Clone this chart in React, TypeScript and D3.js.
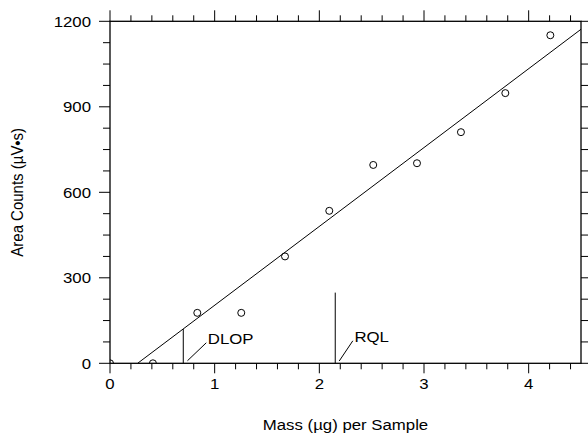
import React from "react";
import * as d3 from "d3";

const massX = [0, 0.41, 0.834, 1.254, 1.672, 2.095, 2.515, 2.933, 3.353, 3.777, 4.207];
const areaY = [0, 0, 177, 177, 375, 535, 696, 702, 811, 948, 1151];
const fitX = [0.264, 4.5];
const fitY = [0, 1172];
const xTicks = [0, 1, 2, 3, 4];
const yTicks = [0, 300, 600, 900, 1200];
const markers = [
  { label: "DLOP", x: 0.70, top: 120, leadX: [0.74, 0.92], leadY: [9, 72], textX: 0.935, textY: 68 },
  { label: "RQL", x: 2.152, top: 248, leadX: [2.19, 2.32], leadY: [8, 79], textX: 2.335, textY: 74 },
];

const W = 588, H = 435;
const L = 110, R = 581, T = 21.3, B = 363.3;
const FONT = "'Liberation Sans', Arial, Helvetica, sans-serif";

export default function App() {
  const x = d3.scaleLinear().domain([0, 4.5]).range([L, R]);
  const y = d3.scaleLinear().domain([0, 1200]).range([B, T]);
  const xMinor = d3.range(0, 4.5001, 0.2).filter((v) => Math.abs(v - Math.round(v)) > 1e-6);
  const yMinor = d3.range(0, 1200.1, 75).filter((v) => v % 300 !== 0);
  const line = d3.line<number>().x((d, i) => x(fitX[i])).y((d, i) => y(fitY[i]));
  const fs = 15;
  const sx = 1.12;
  const txt = (s: string, px: number, py: number, anchor: string, key?: string) => (
    <text
      key={key}
      transform={`translate(${px},${py}) scale(${sx},1)`}
      textAnchor={anchor}
      fontSize={fs}
      fontFamily={FONT}
      fill="#000"
    >
      {s}
    </text>
  );
  return (
    <svg width={W} height={H} style={{ position: "absolute", left: 0, top: 0, background: "#fff" }}>
      <defs>
        <clipPath id="plot">
          <rect x={L} y={T} width={R - L} height={B - T} />
        </clipPath>
      </defs>
      <g stroke="#000" strokeWidth={1}>
        {/* bottom ticks */}
        {xTicks.map((v) => <line key={"bM" + v} x1={x(v)} x2={x(v)} y1={B} y2={B + 10} />)}
        {xMinor.map((v) => <line key={"bm" + v} x1={x(v)} x2={x(v)} y1={B} y2={B + 6} />)}
        {/* top ticks */}
        {xTicks.map((v) => <line key={"tM" + v} x1={x(v)} x2={x(v)} y1={T} y2={T - 11} />)}
        {xMinor.map((v) => <line key={"tm" + v} x1={x(v)} x2={x(v)} y1={T} y2={T - 6} />)}
        {/* left ticks */}
        {yTicks.map((v) => <line key={"lM" + v} x1={L} x2={L - 11} y1={y(v)} y2={y(v)} />)}
        {yMinor.map((v) => <line key={"lm" + v} x1={L} x2={L - 7} y1={y(v)} y2={y(v)} />)}
        {/* right ticks */}
        {yTicks.map((v) => <line key={"rM" + v} x1={R} x2={R + 11} y1={y(v)} y2={y(v)} />)}
        {yMinor.map((v) => <line key={"rm" + v} x1={R} x2={R + 7} y1={y(v)} y2={y(v)} />)}
        <rect x={L} y={T} width={R - L} height={B - T} fill="none" strokeWidth={1.3} />
      </g>
      <g clipPath="url(#plot)">
        <path d={line(fitX) || ""} fill="none" stroke="#000" strokeWidth={1} />
        {massX.map((v, i) => (
          <circle key={i} cx={x(v)} cy={y(areaY[i])} r={3.5} fill="none" stroke="#000" strokeWidth={1} />
        ))}
      </g>
      {markers.map((m) => (
        <g key={m.label}>
          <line x1={x(m.x)} x2={x(m.x)} y1={y(0)} y2={y(m.top)} stroke="#000" strokeWidth={1} />
          <line x1={x(m.leadX[0])} x2={x(m.leadX[1])} y1={y(m.leadY[0])} y2={y(m.leadY[1])} stroke="#000" strokeWidth={1} />
          {txt(m.label, x(m.textX), y(m.textY), "start")}
        </g>
      ))}
      {yTicks.map((v) => txt(String(v), L - 19, y(v) + 5.3, "end", "yl" + v))}
      {xTicks.map((v) => txt(String(v), x(v), 389, "middle", "xl" + v))}
      {txt("Mass (\u00B5g) per Sample", (L + R) / 2, 430, "middle")}
      <text
        transform={`translate(23,${(T + B) / 2}) rotate(-90) scale(1,${sx})`}
        textAnchor="middle"
        fontSize={fs}
        fontFamily={FONT}
      >
        Area Counts (µV•s)
      </text>
    </svg>
  );
}
